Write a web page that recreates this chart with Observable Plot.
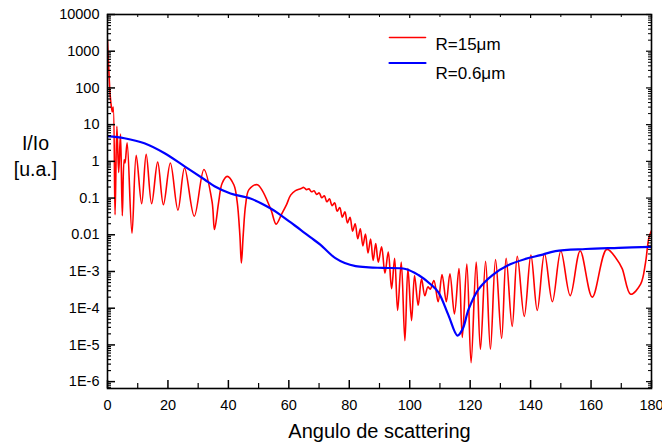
<!DOCTYPE html>
<html><head><meta charset="utf-8">
<script src="https://cdn.jsdelivr.net/npm/d3@7"></script>
<script src="https://cdn.jsdelivr.net/npm/@observablehq/plot@0.6"></script>
<style>body{margin:0;background:#fff}#chart{width:662px;height:447px}</style>
</head><body><div id="chart"></div>
<script>
// R=15 µm (red): scattering angle (deg) and intensity
const redAngle = [0,0.5,0.9,1.3,1.6,1.9,2.5,3.1,3.7,4.3,4.9,5.5,5.8,6.5,8.1,9.5,11.3,12.8,14.6,16.6,18.5,20.8,23.3,25.5,28.7,31.9,34.6,35.4,36.8,37.9,39.6,41.8,42.9,43.8,44.3,44.9,45.7,46.8,49.6,53.9,55.8,57.5,59.2,60.6,62.2,63.9,64.95,65.8,66.65,67.5,68.35,69.2,70.05,70.9,71.75,72.6,73.45,74.3,75.15,76.0,76.85,77.7,78.55,79.4,80.25,81.1,81.95,82.8,83.65,84.5,85.35,86.2,87.05,87.9,88.75,89.6,90.7,91.8,92.9,94.0,95.0,96.0,97.2,98.4,99.4,100.6,101.6,102.8,103.9,105.0,106.0,106.8,108.0,109.4,110.7,112.1,113.3,114.8,116.3,117.4,118.9,120.3,122.0,123.4,125.1,126.7,128.4,130.4,131.9,133.9,135.6,137.9,140.1,142.2,144.6,147.2,150.0,153.1,156.4,160.4,165.2,168.6,170.3,173.1,176.4,178.0,179.1,180];
const redI = [2000,240,60,30,22,30,0.035,9,0.5,5.5,0.033,1.1,0.9,3.2,0.011,1.46,0.07,1.55,0.07,0.95,0.066,0.9,0.047,0.66,0.032,0.6,0.08,0.014,0.08,0.25,0.39,0.23,0.08,0.0098,0.0017,0.0098,0.065,0.17,0.23,0.053,0.0195,0.035,0.065,0.12,0.16,0.18,0.195,0.17,0.178,0.148,0.158,0.126,0.138,0.102,0.115,0.079,0.095,0.062,0.074,0.044,0.055,0.030,0.042,0.021,0.030,0.0126,0.020,0.0078,0.0145,0.005,0.0105,0.0032,0.0076,0.002,0.0058,0.0018,0.0047,0.0009,0.0034,0.00034,0.0023,0.000087,0.0018,0.000013,0.0012,0.000046,0.00078,0.00012,0.00063,0.00022,0.00038,0.00033,0.00057,0.00015,0.00082,0.00015,0.00087,0.00007,0.0012,0.000016,0.0016,0.0000033,0.0018,0.0000076,0.0019,0.0000076,0.0021,0.000015,0.0023,0.000032,0.0026,0.00006,0.0028,0.000087,0.0031,0.00015,0.0036,0.00022,0.0036,0.0002,0.004,0.0021,0.0012,0.00024,0.00045,0.0017,0.008,0.013];

// R=0.6 µm (blue)
const blueAngle = [0,5.6,12.2,18.9,25.5,32.1,35.4,40.7,47.3,54.0,57.2,60.5,63.9,67.2,70.5,73.0,75.4,78.5,82.1,86.5,91.0,98.6,102.9,106.9,109.5,112.8,115.8,117.5,119.5,122.8,127.4,132.7,138.3,143.3,148.2,158.2,169.1,180];
const blueI = [4.84,4.27,3.11,1.66,0.73,0.32,0.21,0.133,0.097,0.052,0.035,0.022,0.0137,0.0085,0.0053,0.0034,0.0023,0.0017,0.0014,0.0013,0.00125,0.00117,0.0008,0.00045,0.00027,0.000065,0.000018,0.000027,0.000094,0.00033,0.0008,0.0015,0.0022,0.0028,0.0036,0.0041,0.0044,0.0047];

const xTicks = [0,20,40,60,80,100,120,140,160,180];
const xMinorTicks = [10,30,50,70,90,110,130,150,170];
const yTicks = [1e4,1e3,1e2,1e1,1,0.1,0.01,1e-3,1e-4,1e-5,1e-6];
const yTickLabels = ["10000","1000","100","10","1","0.1","0.01","1E-3","1E-4","1E-5","1E-6"];
const seriesNames = ["R=15\u03bcm","R=0.6\u03bcm"];
const seriesColors = ["#ff0000","#0000ff"];
const xTitle = "Angulo de scattering";
const yTitle = "I/Io\n[u.a.]";

const red = redAngle.map((a,i)=>({angle:a, I:redI[i]}));
const blue = blueAngle.map((a,i)=>({angle:a, I:blueI[i]}));
const yDomain = [6.5e-7, 1e4];
const yMinor = [];
for (let e=-7;e<=3;e++) for (let m=2;m<=9;m++){ const v=m*Math.pow(10,e); if (v>=yDomain[0] && v<=yDomain[1]) yMinor.push(v); }

const W=662,H=447,mL=107,mR=11,mT=14,mB=59;
const fw=W-mL-mR, fh=H-mT-mB;
const lineShape = {draw(ctx,l){ctx.moveTo(0,0);ctx.lineTo(0,-l);}};
const legendLineDy=[23,48.5], legendTextDy=[23,52.5], legendWidth=[1.6,2.2];

const chart = Plot.plot({
  width:W, height:H, marginLeft:mL, marginRight:mR, marginTop:mT, marginBottom:mB,
  style:{fontFamily:"'Liberation Sans', Arial, sans-serif", background:"white", color:"black"},
  x:{domain:[0,180]},
  y:{type:"log", domain:yDomain},
  marks:[
    Plot.line(red,{x:"angle",y:"I",stroke:seriesColors[0],strokeWidth:1.6,curve:"catmull-rom",clip:true}),
    Plot.line(blue,{x:"angle",y:"I",stroke:seriesColors[1],strokeWidth:2.2,curve:"catmull-rom",clip:true}),
    Plot.frame({stroke:"black",strokeWidth:1.6}),
    Plot.tickY(yTicks,{y:d=>d,insetRight:fw-8,stroke:"black",strokeWidth:1.5}),
    Plot.tickY(yMinor,{y:d=>d,insetRight:fw-4,stroke:"black",strokeWidth:1.2}),
    Plot.tickY(yTicks,{y:d=>d,insetLeft:fw-5,stroke:"black",strokeWidth:1.2}),
    Plot.tickY(yMinor,{y:d=>d,insetLeft:fw-3,stroke:"black",strokeWidth:1}),
    Plot.tickX(xTicks,{x:d=>d,insetTop:fh-8,stroke:"black",strokeWidth:1.5}),
    Plot.tickX(xMinorTicks,{x:d=>d,insetTop:fh-5,stroke:"black",strokeWidth:1.2}),
    Plot.tickX(xTicks,{x:d=>d,insetBottom:fh-4,stroke:"black",strokeWidth:1.2}),
    Plot.tickX(xMinorTicks,{x:d=>d,insetBottom:fh-3,stroke:"black",strokeWidth:1}),
    Plot.axisY(yTicks,{tickSize:0,tickPadding:8,tickFormat:d=>yTickLabels[yTicks.indexOf(d)],fontSize:14.5,label:null}),
    Plot.axisX(xTicks,{tickSize:0,tickPadding:11,fontSize:14.5,label:null}),
    Plot.text([yTitle],{text:d=>d,frameAnchor:"left",dx:-72,dy:-47,fontSize:19.5,lineHeight:1.35,textAnchor:"middle"}),
    Plot.text([xTitle],{text:d=>d,frameAnchor:"bottom",dy:49,fontSize:20,textAnchor:"middle"}),
    ...seriesNames.flatMap((name,i)=>[
      Plot.vector([0],{frameAnchor:"top-left",dx:282,dy:legendLineDy[i],length:36,rotate:90,anchor:"start",stroke:seriesColors[i],strokeWidth:legendWidth[i],shape:lineShape}),
      Plot.text([name],{text:d=>d,frameAnchor:"top-left",dx:328,dy:legendTextDy[i],textAnchor:"start",fontSize:17})
    ])
  ]
});
document.getElementById("chart").appendChild(chart);
</script>
</body></html>
